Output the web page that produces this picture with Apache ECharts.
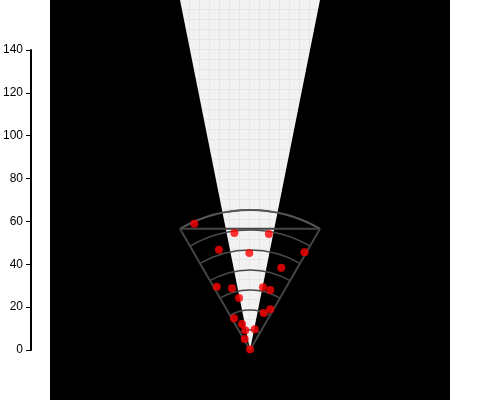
<!DOCTYPE html>
<html>
<head>
<meta charset="utf-8">
<script src="https://cdn.jsdelivr.net/npm/echarts@6/dist/echarts.min.js"></script>
<style>html,body{margin:0;padding:0;background:#fff}#c{width:500px;height:400px}</style>
</head>
<body>
<div id="c"></div>
<script>
// y-axis tick labels (left cartesian axis)
var yTicks = [0, 20, 40, 60, 80, 100, 120, 140];
// polar scatter points: radius values and angles (degrees, counter-clockwise from 3 o'clock)
var radii  = [138, 118, 117.5, 105, 97, 112, 88, 71.5, 64.3, 64, 63.3, 53.2, 39.5, 45.5, 35.5, 27.2, 20.3, 21.2, 12.2, 0.7];
var angles = [113.8, 97.6, 80.8, 107.2, 90.4, 60.9, 69.2, 117.7, 106.3, 78.3, 71.3, 101.9, 69.7, 63.5, 116.8, 107.1, 103.4, 77.2, 115.7, 90];

var pts = radii.map(function (r, i) { return [r, angles[i]]; });

// graph-paper pattern for the light wedge
var pc = document.createElement('canvas');
pc.width = 10; pc.height = 10;
var g = pc.getContext('2d');
g.fillStyle = '#f2f2f2'; g.fillRect(0, 0, 10, 10);
g.fillStyle = '#e6e6e6'; g.fillRect(9, 0, 1, 10); g.fillRect(0, 9, 10, 1);

var cx = 250, cy = 350, R = 140;
var a60 = 60 * Math.PI / 180;

var chart = echarts.init(document.getElementById('c'));
chart.setOption({
  backgroundColor: '#ffffff',
  animation: false,
  graphic: [
    { type: 'rect', z: -30, silent: true, shape: { x: 50, y: 0, width: 400, height: 400 }, style: { fill: '#000000' } },
    { type: 'polygon', z: -20, silent: true, shape: { points: [[180, 0], [320, 0], [250, 350]] }, style: { fill: { image: pc, repeat: 'repeat' } } },
    { type: 'line', z: 50, silent: true,
      shape: { x1: cx - R * Math.cos(a60), y1: cy - R * Math.sin(a60), x2: cx + R * Math.cos(a60), y2: cy - R * Math.sin(a60) },
      style: { stroke: '#444444', lineWidth: 2 } }
  ],
  grid: { left: 30, top: 50, bottom: 50, right: 50 },
  xAxis: { type: 'value', show: false, min: 0, max: 1 },
  yAxis: {
    type: 'value', min: 0, max: 140, interval: 20,
    axisLine: { show: true, lineStyle: { color: '#000', width: 2 } },
    axisTick: { show: true, length: 5, lineStyle: { color: '#000' } },
    axisLabel: { color: '#000', fontSize: 12, fontFamily: 'Liberation Sans, Arial, sans-serif',
      formatter: function (v) { return yTicks.indexOf(v) >= 0 ? String(v) : ''; } },
    splitLine: { show: false }
  },
  polar: { center: [cx, cy], radius: R },
  angleAxis: {
    type: 'value', min: 60, max: 120, interval: 60,
    startAngle: 60, endAngle: 120, clockwise: false,
    axisLine: { show: true, lineStyle: { color: '#555555', width: 2 } },
    axisTick: { show: false },
    axisLabel: { show: false },
    splitLine: { show: true, lineStyle: { color: '#444444', width: 2 } }
  },
  radiusAxis: {
    type: 'value', min: 0, max: 140, interval: 20,
    axisLine: { show: false },
    axisTick: { show: false },
    axisLabel: { show: false },
    splitLine: { show: true, lineStyle: { color: '#4a4a4a', width: 1.5 } }
  },
  series: [{
    type: 'scatter',
    coordinateSystem: 'polar',
    symbolSize: 8,
    itemStyle: { color: '#ff0000' },
    data: pts,
    z: 60
  }]
});
</script>
</body>
</html>
